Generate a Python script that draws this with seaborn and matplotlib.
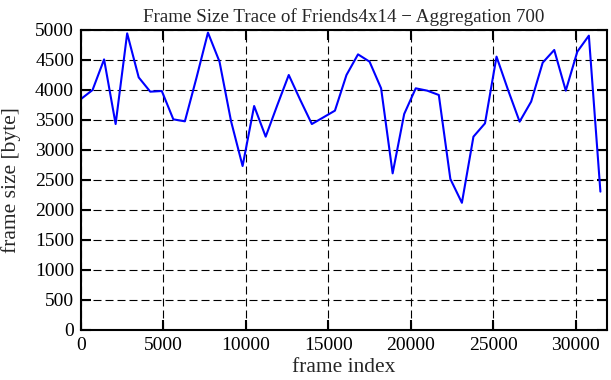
import numpy as np
import pandas as pd
import seaborn as sns
import matplotlib
matplotlib.use('Agg')
import matplotlib.pyplot as plt

# frame index (aggregation of 700 frames) and mean frame size
frame_index = [i * 700 for i in range(46)]
frame_size = [3850, 4000, 4510, 3433, 4944, 4210, 3972, 3983, 3511, 3478,
              4200, 4956, 4472, 3480, 2733, 3733, 3222, 3744, 4250, 3833,
              3433, 3544, 3656, 4250, 4594, 4472, 4028, 2611, 3600, 4028,
              3989, 3917, 2517, 2120, 3222, 3444, 4556, 4000, 3472, 3806,
              4456, 4667, 3989, 4639, 4906, 2306]
x_ticks = [0, 5000, 10000, 15000, 20000, 25000, 30000]
y_ticks = list(range(0, 5001, 500))

df = pd.DataFrame({'frame index': frame_index, 'frame size': frame_size})

sns.set_style('ticks')
plt.rcParams['font.family'] = ['Liberation Serif', 'DejaVu Serif']

fig = plt.figure(figsize=(6.11, 3.8), dpi=100)
ax = fig.add_axes([81 / 611, 50 / 380, 526 / 611, 300 / 380])

sns.lineplot(data=df, x='frame index', y='frame size', ax=ax,
             color='#0000ff', linewidth=1.5)

ax.set_xlim(0, 31900)
ax.set_ylim(0, 5000)
ax.set_xticks(x_ticks)
ax.set_yticks(y_ticks)
ax.grid(True, color='black', linestyle=(0, (7.2, 3.6)), linewidth=0.8)
ax.tick_params(direction='in', length=7, width=1.5, top=True, right=True,
               labelsize=14, colors='black', pad=5)
for s in ax.spines.values():
    s.set_linewidth(1.5)
    s.set_color('black')

ax.set_xlabel('frame index', fontsize=15.5, labelpad=3)
ax.set_ylabel('frame size [byte]', fontsize=15.5, labelpad=10)
ax.set_title('Frame Size Trace of Friends4x14 \u2212 Aggregation 700', fontsize=13.7, pad=6)

fig.savefig('out.png', dpi=100)
